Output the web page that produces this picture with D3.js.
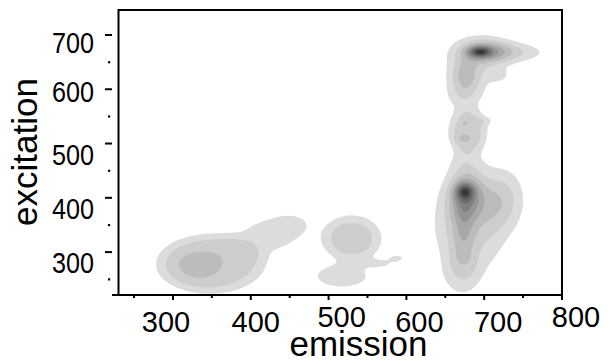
<!DOCTYPE html>
<html><head><meta charset="utf-8">
<script src="https://cdn.jsdelivr.net/npm/d3@7"></script>
<style>
body{margin:0;background:#fff}
svg{display:block}
text{font-family:Arial,"Liberation Sans",sans-serif;fill:#000}
</style>
</head><body>
<svg id="c" width="611" height="362"></svg>
<script>
// ---- data ----
const xTicks = [300, 400, 500, 600, 700, 800];
const xMinorTicks = [250, 350, 450, 550, 650, 750];
const yTicks = [300, 400, 500, 600, 700];
const yMinorTicks = [250, 350, 450, 550, 650];
const xTitle = "emission";
const yTitle = "excitation";
// fluorescence peaks (emission nm, excitation nm, relative intensity, widths, flatness)
const peakEm      = [333, 348, 430, 455, 400, 530, 517, 565, 588, 694, 702, 735, 676, 718, 688, 674, 679, 675, 674, 703, 675, 675, 676, 673, 710, 680, 730, 670];
const peakEx      = [276, 278, 335, 352, 315, 325, 256, 279, 289, 669, 670, 668, 627, 626, 650, 588, 522, 537, 510, 542, 468, 412, 405, 340, 395, 350, 400, 260];
const peakAmp     = [1.4, 2.3, 1.25, 0.9, 0.7, 2.4, 1.7, 1.3, 1.3, 4.5, 3.3, 1.8, 2.4, 1.0, 1.4, 1.5, 2.3, 1.0, 1.0, 0.9, 0.9, 3.5, 3.5, 2.0, 1.6, 2.0, 0.9, 1.0];
const peakWidthEm = [23,  63,  30,  18,  30,  33,  30,  15,  8,   10,  22,  32,  13,  10,  28,  17,  22,  4,   8,   7,   16,  8,   14,  11,  28,  38,  15,  20];
const peakWidthEx = [20,  50,  25,  15,  25,  37,  19,  7,   5,   7,   15,  13,  22,  9,   35,  22,  36,  3,   7,   6,   16,  10,  28,  45,  40,  80,  40,  35];
const peakShape   = [1,   3,   1,   1,   1,   2,   1.5, 1,   1,   1,   1,   1,   1,   1,   1,   1,   2,   1,   1,   1,   1,   1,   1,   1,   1,   1.5, 1,   1.5];
const contourLevels = [1, 2, 3, 4, 5, 6, 7, 8, 9];

// ---- styles / layout ----
const levelGrays = ["#dcdcdc", "#cdcdcd", "#bcbcbc", "#a8a8a8", "#949494", "#7f7f7f", "#6a6a6a", "#545454", "#383838"];
const plot = {left: 118.5, right: 562, top: 10, bottom: 295};

const svg = d3.select("#c");
const x = d3.scaleLinear().domain([230, 800]).range([plot.left, plot.right]);
const y = d3.scaleLinear().domain([221, 746]).range([plot.bottom, plot.top]);

// ---- intensity surface ----
function intensity(em, ex) {
  let s = 0;
  for (let k = 0; k < peakEm.length; k++) {
    const dx = (em - peakEm[k]) / peakWidthEm[k];
    const dy = (ex - peakEx[k]) / peakWidthEx[k];
    const r2 = dx * dx + dy * dy;
    s += peakAmp[k] * Math.exp(-0.5 * Math.pow(r2, peakShape[k]));
  }
  return s;
}
const W = Math.round(plot.right - plot.left), H = Math.round(plot.bottom - plot.top);
const grid = new Float64Array(W * H);
for (let j = 0; j < H; j++) {
  const ex = y.invert(plot.top + j + 0.5);
  for (let i = 0; i < W; i++) {
    grid[j * W + i] = intensity(x.invert(plot.left + i + 0.5), ex);
  }
}
const contours = d3.contours().size([W, H]).thresholds(contourLevels)(grid);
svg.append("g")
  .attr("transform", `translate(${plot.left},${plot.top})`)
  .selectAll("path").data(contours).join("path")
  .attr("d", d3.geoPath())
  .attr("fill", (d, i) => levelGrays[i])
  .attr("stroke", "none");

// ---- frame & axes ----
svg.append("path")
  .attr("d", `M${plot.left},${plot.bottom}V${plot.top}H${plot.right}V${plot.bottom}`)
  .attr("fill", "none").attr("stroke", "#000").attr("stroke-width", 2);
svg.append("line")
  .attr("x1", 112).attr("x2", plot.right + 1).attr("y1", plot.bottom).attr("y2", plot.bottom)
  .attr("stroke", "#000").attr("stroke-width", 2);

const gx = svg.append("g");
gx.selectAll("line.maj").data(xTicks).join("line")
  .attr("x1", d => x(d)).attr("x2", d => x(d))
  .attr("y1", plot.bottom).attr("y2", plot.bottom + 5)
  .attr("stroke", "#000").attr("stroke-width", 2);
gx.selectAll("line.min").data(xMinorTicks).join("line")
  .attr("x1", d => x(d)).attr("x2", d => x(d))
  .attr("y1", plot.bottom).attr("y2", plot.bottom + 3)
  .attr("stroke", "#000").attr("stroke-width", 2);
const xLabelShift = {300: -7, 400: 5, 500: 13, 600: 13, 700: 14, 800: 14};
const xLabelRaise = {500: 5, 800: 5};
gx.selectAll("text").data(xTicks).join("text")
  .attr("x", d => x(d) + (xLabelShift[d] || 0))
  .attr("y", d => 332 - (xLabelRaise[d] || 0))
  .attr("text-anchor", "middle")
  .attr("font-size", 29)
  .text(d => d);

const gy = svg.append("g");
gy.selectAll("line").data(yTicks).join("line")
  .attr("x1", 105).attr("x2", 112)
  .attr("y1", d => y(d)).attr("y2", d => y(d))
  .attr("stroke", "#000").attr("stroke-width", 2);
gy.selectAll("rect").data(yMinorTicks).join("rect")
  .attr("x", 108).attr("y", d => y(d) - 1)
  .attr("width", 2.2).attr("height", 2.2).attr("fill", "#000");
const yLabelDrop = {700: 18, 600: 13};
gy.selectAll("text").data(yTicks).join("text")
  .attr("x", 94)
  .attr("y", d => y(d) + (yLabelDrop[d] !== undefined ? yLabelDrop[d] : 21))
  .attr("text-anchor", "end")
  .attr("font-size", 29)
  .attr("textLength", 42).attr("lengthAdjust", "spacingAndGlyphs")
  .text(d => d);

svg.append("text")
  .attr("x", 358.5).attr("y", 356)
  .attr("text-anchor", "middle").attr("font-size", 35)
  .text(xTitle);
svg.append("text")
  .attr("transform", "translate(37,152) rotate(-90)")
  .attr("text-anchor", "middle").attr("font-size", 35)
  .text(yTitle);
</script>
</body></html>
